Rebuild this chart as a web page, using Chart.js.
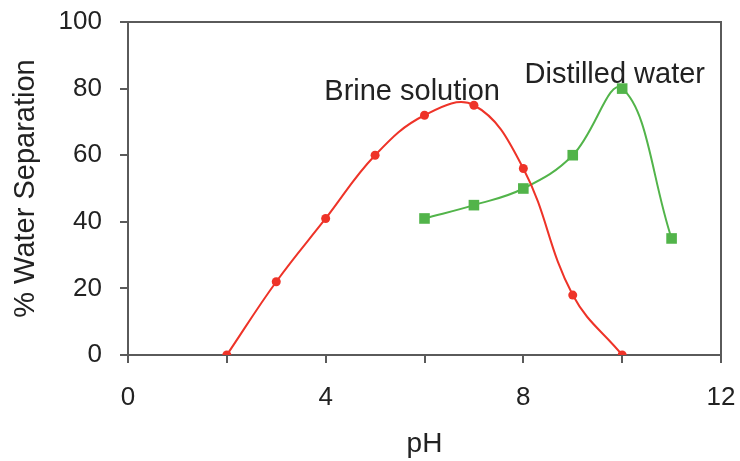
<!DOCTYPE html>
<html>
<head>
<meta charset="utf-8">
<script src="https://cdn.jsdelivr.net/npm/chart.js"></script>
<style>
  html, body { margin: 0; padding: 0; background: #fff; }
  #wrap { width: 740px; height: 461px; }
</style>
</head>
<body>
<div id="wrap"><canvas id="chart"></canvas></div>
<script>
// pH vs water separation for the two media
const phBrine = [2, 3, 4, 5, 6, 7, 8, 9, 10];
const brine = [0, 22, 41, 60, 72, 75, 56, 18, 0];
const phDistilled = [6, 7, 8, 9, 10, 11];
const distilled = [41, 45, 50, 60, 80, 35];

const xTicks = [0, 4, 8, 12];
const yTicks = [0, 20, 40, 60, 80, 100];

// curve labels placed in data coordinates
const curveLabels = [
  { text: 'Brine solution', x: 5.75, y: 79 },
  { text: 'Distilled water', x: 9.85, y: 84 },
];

const axisColor = '#5a5a5a';
const textColor = '#222';
const fontFamily = '"Liberation Sans", Arial, sans-serif';

// closes the plot frame on the top and right sides, writes the curve labels
const framePlugin = {
  id: 'frame',
  afterDatasetsDraw(chart) {
    const { ctx, chartArea: a, scales } = chart;
    ctx.save();
    ctx.strokeStyle = axisColor;
    ctx.lineWidth = 2;
    ctx.beginPath();
    ctx.moveTo(a.left, a.top);
    ctx.lineTo(a.right, a.top);
    ctx.lineTo(a.right, a.bottom);
    ctx.stroke();

    ctx.fillStyle = textColor;
    ctx.font = '29px ' + fontFamily;
    ctx.textAlign = 'center';
    ctx.textBaseline = 'middle';
    curveLabels.forEach(l => {
      ctx.fillText(l.text, scales.x.getPixelForValue(l.x), scales.y.getPixelForValue(l.y));
    });
    ctx.restore();
  }
};

new Chart(document.getElementById('chart'), {
  type: 'line',
  data: {
    datasets: [
      {
        label: 'Brine solution',
        data: phBrine.map((x, i) => ({ x, y: brine[i] })),
        borderColor: '#ee3328',
        backgroundColor: '#ee3328',
        borderWidth: 2,
        tension: 0.4,
        pointStyle: 'circle',
        pointRadius: 4.5,
        pointBorderWidth: 0,
      },
      {
        label: 'Distilled water',
        data: phDistilled.map((x, i) => ({ x, y: distilled[i] })),
        borderColor: '#52b44a',
        backgroundColor: '#52b44a',
        borderWidth: 2,
        tension: 0.4,
        pointStyle: 'rect',
        pointRadius: 7.5,
        pointBorderWidth: 0,
      },
    ],
  },
  options: {
    responsive: true,
    maintainAspectRatio: false,
    animation: false,
    layout: { padding: { top: 22, right: 19, left: 0, bottom: 0 } },
    plugins: {
      legend: { display: false },
      tooltip: { enabled: false },
    },
    scales: {
      x: {
        type: 'linear',
        min: 0,
        max: 12,
        afterFit: s => { s.height = 106; s.paddingLeft = 0; s.paddingRight = 0; },
        ticks: {
          stepSize: 2,
          callback: v => (xTicks.includes(v) ? String(v) : ''),
          color: textColor,
          padding: 19,
          maxRotation: 0,
          font: { family: fontFamily, size: 26 },
        },
        grid: { drawOnChartArea: false, tickLength: 8, color: axisColor, lineWidth: 2 },
        border: { display: true, color: axisColor, width: 2 },
        title: {
          display: true,
          text: 'pH',
          color: textColor,
          padding: { top: 2, bottom: 0 },
          font: { family: fontFamily, size: 28 },
        },
      },
      y: {
        min: 0,
        max: 100,
        afterFit: s => { s.width = 128; s.paddingTop = 0; s.paddingBottom = 0; },
        ticks: {
          stepSize: 20,
          callback: v => (yTicks.includes(v) ? String(v) : ''),
          color: textColor,
          padding: 18,
          font: { family: fontFamily, size: 26 },
        },
        grid: { drawOnChartArea: false, tickLength: 8, color: axisColor, lineWidth: 2 },
        border: { display: true, color: axisColor, width: 2 },
        title: {
          display: true,
          text: '% Water Separation',
          color: textColor,
          padding: { top: 9, bottom: 0 },
          font: { family: fontFamily, size: 29 },
        },
      },
    },
  },
  plugins: [framePlugin],
});
</script>
</body>
</html>
